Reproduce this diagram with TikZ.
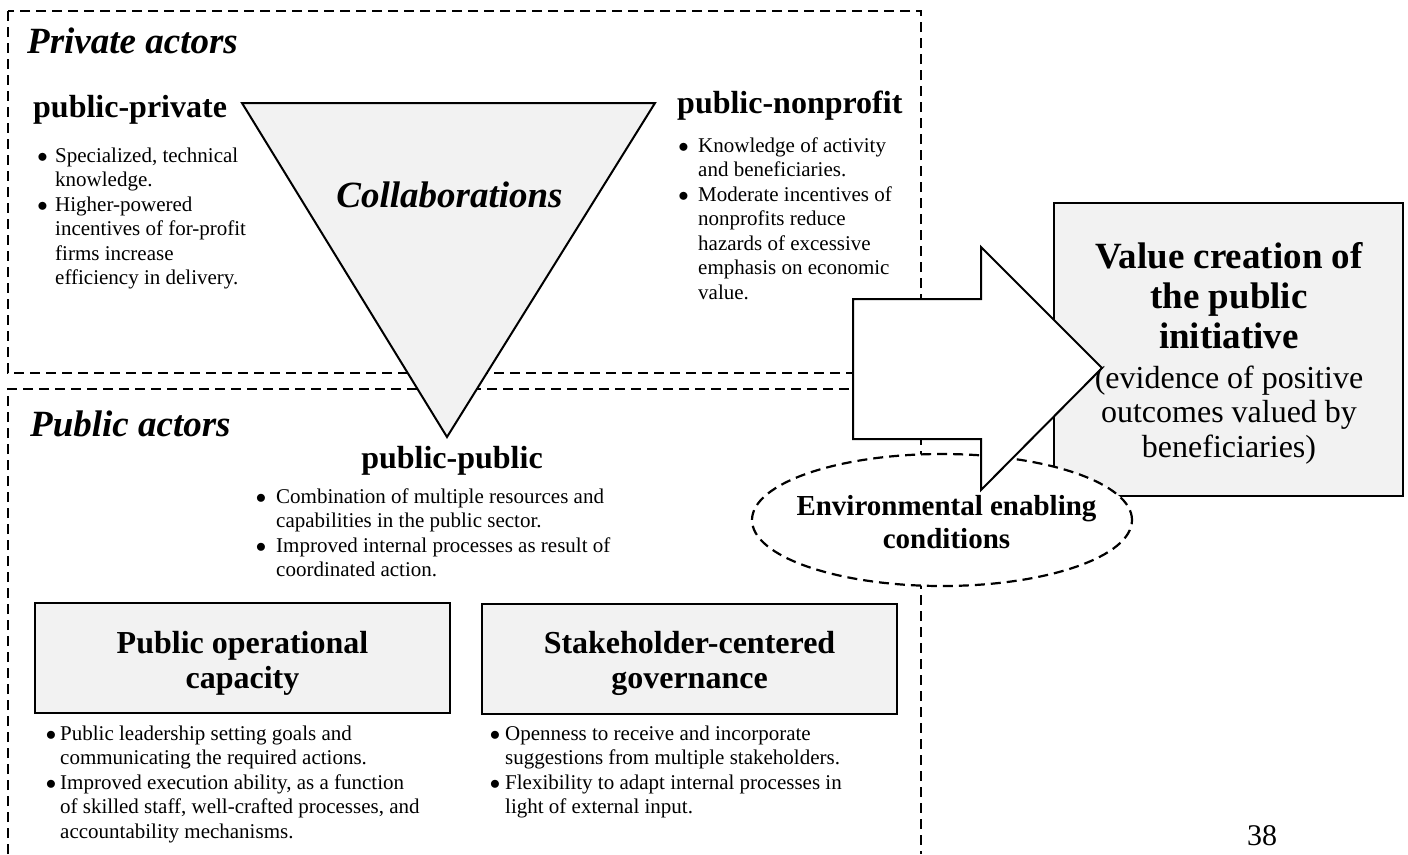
\documentclass[tikz,border=0pt]{standalone}
\usepackage{fontspec}
\setmainfont{Liberation Serif}
\usetikzlibrary{shapes.geometric}
\definecolor{panelgray}{HTML}{F2F2F2}

% round bullet hung to the left of a line, #1 = gap between bullet and text
\newcommand{\bulletat}[1]{\llap{$\bullet$\hspace{#1}}}

\tikzset{
  zone/.style={draw, line width=2.4pt, dash pattern=on 10pt off 6pt},
  solidbox/.style={draw, line width=2pt, fill=panelgray},
  head/.style={font=\fontsize{32}{35}\selectfont\bfseries, inner sep=0pt},
  zonetitle/.style={font=\fontsize{37}{40}\selectfont\bfseries\itshape, inner sep=0pt, anchor=base west},
  blist/.style={font=\fontsize{21}{24.5}\selectfont, inner sep=0pt, anchor=base west},
}

\begin{document}
\begin{tikzpicture}[x=1pt,y=-1pt]
\useasboundingbox (0,0) rectangle (1408,854);

% actor zones
\draw[zone] (8,11) rectangle (921,373);
\draw[zone] (8,854) -- (8,389) -- (921,389) -- (921,854);

% collaborations triangle
\coordinate (tl) at (242,103);
\coordinate (tr) at (655,103);
\coordinate (tb) at (447,437);
\draw[solidbox] (tl) -- (tr) -- (tb) -- cycle;

% outcome box
\node[solidbox, minimum width=349pt, minimum height=293pt, inner sep=0pt] (value) at (1228.5,349.5) {};

% enabling conditions
\node[ellipse, draw, fill=white, line width=2.2pt, dash pattern=on 10pt off 6pt,
      minimum width=380pt, minimum height=132pt, inner sep=0pt] (env) at (942,520) {};

% block arrow
\draw[line width=2pt, fill=white] (853,299) -- (981,299) -- (981,247) -- (1102,368)
  -- (981,490) -- (981,439) -- (853,439) -- cycle;

% capacity boxes
\node[solidbox, minimum width=415pt, minimum height=110pt, inner sep=0pt] (poc) at (242.5,658) {};
\node[solidbox, minimum width=415pt, minimum height=110pt, inner sep=0pt] (scg) at (689.5,658.5) {};

% titles
\node[zonetitle] (private) at (27,53) {Private actors};
\node[zonetitle] (public) at (30,436) {Public actors};
\node[font=\fontsize{37}{40}\selectfont\bfseries\itshape, inner sep=0pt, anchor=base] (collab) at (449.5,207) {Collaborations};

% collaboration types
\node[head, anchor=base west] (ppriv) at (33,117) {public-private};
\node[head, anchor=base west] (pnon) at (677,113) {public-nonprofit};
\node[head, anchor=base] (ppub) at (452,468) {public-public};

\node[blist] (ppriv-list) at (55,162) {\begin{tabular}[t]{@{}l@{}}
\bulletat{7.5pt}Specialized, technical\\
knowledge.\\
\bulletat{7.5pt}Higher-powered\\
incentives of for-profit\\
firms increase\\
efficiency in delivery.
\end{tabular}};

\node[blist] (pnon-list) at (698,152) {\begin{tabular}[t]{@{}l@{}}
\bulletat{9.5pt}Knowledge of activity\\
and beneficiaries.\\
\bulletat{9.5pt}Moderate incentives of\\
nonprofits reduce\\
hazards of excessive\\
emphasis on economic\\
value.
\end{tabular}};

\node[blist] (ppub-list) at (276,503) {\begin{tabular}[t]{@{}l@{}}
\bulletat{10pt}Combination of multiple resources and\\
capabilities in the public sector.\\
\bulletat{10pt}Improved internal processes as result of\\
coordinated action.
\end{tabular}};

% capacity box titles
\node[head, anchor=base] (poc-t) at (242.5,653) {\begin{tabular}[t]{@{}c@{}}Public operational\\ capacity\end{tabular}};
\node[head, anchor=base] (scg-t) at (689.5,653) {\begin{tabular}[t]{@{}c@{}}Stakeholder-centered\\ governance\end{tabular}};

\node[blist] (poc-list) at (60,740) {\begin{tabular}[t]{@{}l@{}}
\bulletat{4pt}Public leadership setting goals and\\
communicating the required actions.\\
\bulletat{4pt}Improved execution ability, as a function\\
of skilled staff, well-crafted processes, and\\
accountability mechanisms.
\end{tabular}};

\node[blist] (scg-list) at (505,740) {\begin{tabular}[t]{@{}l@{}}
\bulletat{5pt}Openness to receive and incorporate\\
suggestions from multiple stakeholders.\\
\bulletat{5pt}Flexibility to adapt internal processes in\\
light of external input.
\end{tabular}};

% outcome text
\node[font=\fontsize{37}{40}\selectfont\bfseries, inner sep=0pt, anchor=base] (value-t) at (1229,268)
  {\begin{tabular}[t]{@{}c@{}}Value creation of\\ the public\\ initiative\end{tabular}};
\node[font=\fontsize{32}{34.5}\selectfont, inner sep=0pt, anchor=base] (value-s) at (1229,388)
  {\begin{tabular}[t]{@{}c@{}}(evidence of positive\\ outcomes valued by\\ beneficiaries)\end{tabular}};

% enabling conditions text
\node[font=\fontsize{29}{33}\selectfont\bfseries, inner sep=0pt, anchor=base] (env-t) at (946.5,515)
  {\begin{tabular}[t]{@{}c@{}}Environmental enabling\\ conditions\end{tabular}};

% page number
\node[font=\fontsize{30}{33}\selectfont, inner sep=0pt, anchor=base] (pagenum) at (1262,845) {38};
\end{tikzpicture}
\end{document}
